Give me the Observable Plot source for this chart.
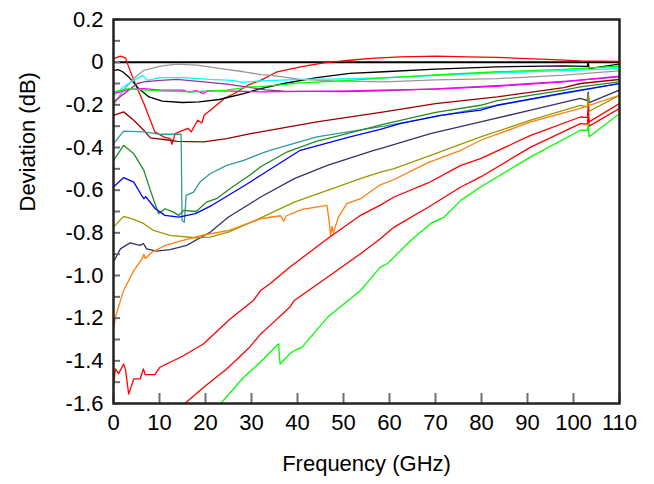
<!DOCTYPE html>
<html>
<head>
<meta charset="utf-8">
<script src="https://cdn.jsdelivr.net/npm/d3@7"></script>
<script src="https://cdn.jsdelivr.net/npm/@observablehq/plot@0.6"></script>
<style>
  html, body { margin: 0; padding: 0; background: #fff; }
  #chart { width: 654px; height: 484px; }
  svg { font-family: "Liberation Sans", Arial, sans-serif; }
</style>
</head>
<body>
<div id="chart"></div>
<script>
// ---- Data (frequency GHz, deviation dB) ----
const redTop = [[0,0.017],[1.5,0.028],[2.6,0.02],[3.3,-0.022],[4.7,-0.1],[6.6,-0.194],[8,-0.272],[9,-0.327],[10.9,-0.35],[12.3,-0.358],[12.7,-0.385],[13.4,-0.335],[15.2,-0.319],[16.2,-0.31],[16.9,-0.327],[18.3,-0.272],[19.2,-0.285],[19.7,-0.249],[21.9,-0.21],[24.1,-0.17],[26.3,-0.147],[29.2,-0.108],[32,-0.085],[35.6,-0.045],[40.6,-0.022],[45.7,-0.003],[51.4,0.009],[56,0.018],[62.3,0.025],[70.4,0.028],[77,0.025],[83.4,0.022],[90,0.017],[94.2,0.013],[101.5,0.006],[110,0.003]];
const black = [[0,-0.04],[1,-0.035],[2,-0.045],[3.3,-0.069],[5.5,-0.124],[7.7,-0.163],[10.6,-0.183],[15,-0.189],[18.6,-0.186],[23,-0.175],[28.3,-0.147],[32,-0.124],[37,-0.1],[44.2,-0.072],[51.4,-0.053],[58.8,-0.045],[70,-0.033],[83.4,-0.022],[97.9,-0.017],[103,-0.02],[103.2,0.0],[103.4,-0.03],[110,-0.009]];
const gray = [[0,-0.2],[2.2,-0.13],[4.4,-0.077],[6.6,-0.038],[10.2,-0.019],[13.8,-0.009],[18.2,-0.014],[23.3,-0.03],[28.3,-0.045],[32,-0.058],[34,-0.061],[40.6,-0.081],[47.8,-0.088],[58.8,-0.092],[70,-0.083],[83.4,-0.077],[97.9,-0.061],[110,-0.041]];
const cyan = [[0,-0.155],[2.2,-0.116],[4.4,-0.085],[6.4,-0.062],[7.3,-0.085],[10.2,-0.072],[15,-0.072],[20.8,-0.081],[26,-0.085],[28,-0.095],[32,-0.088],[40.6,-0.081],[50,-0.078],[60,-0.072],[70,-0.062],[83.4,-0.05],[97.9,-0.04],[110,-0.03]];
const purple = [[0,-0.186],[3.3,-0.131],[5.2,-0.1],[6.6,-0.092],[10.2,-0.085],[13.8,-0.081],[19.6,-0.092],[24.6,-0.103],[29.6,-0.118],[33,-0.13],[37,-0.136],[50,-0.138],[58,-0.135],[70,-0.125],[83.4,-0.11],[97.9,-0.09],[110,-0.069]];
const magenta = [[0,-0.147],[3.3,-0.128],[6.6,-0.124],[10.2,-0.131],[15,-0.131],[16.5,-0.14],[18,-0.133],[19.6,-0.147],[20.5,-0.133],[32,-0.139],[51.4,-0.135],[58,-0.131],[70,-0.126],[83.4,-0.113],[97.9,-0.092],[110,-0.065]];
const lime = [[0,-0.139],[3.3,-0.124],[6.6,-0.13],[10.2,-0.135],[17,-0.139],[24.6,-0.131],[29.8,-0.116],[32,-0.115],[40.6,-0.097],[51.4,-0.085],[58.8,-0.074],[70,-0.06],[83.4,-0.045],[97.9,-0.034],[110,-0.019]];
const maroon = [[0,-0.249],[2.2,-0.233],[4.4,-0.272],[6.6,-0.319],[8,-0.355],[12.3,-0.366],[13.8,-0.371],[19.6,-0.374],[24.6,-0.358],[29.8,-0.335],[32,-0.327],[44.2,-0.28],[58.8,-0.233],[70,-0.194],[83.4,-0.163],[97.9,-0.119],[101.5,-0.1],[110,-0.081]];
const teal = [[0,-0.382],[2.2,-0.323],[6.6,-0.327],[10.2,-0.338],[14.7,-0.338],[14.9,-0.742],[15.4,-0.75],[15.8,-0.624],[17.4,-0.609],[18.8,-0.562],[21,-0.523],[24.6,-0.484],[28.3,-0.46],[32,-0.429],[34,-0.413],[44.2,-0.35],[58.8,-0.3],[70,-0.255],[83.4,-0.202],[97.9,-0.147],[110,-0.1]];
const darkGreen = [[0,-0.46],[2.2,-0.39],[4.4,-0.429],[6.6,-0.507],[8,-0.6],[9.8,-0.71],[11.2,-0.687],[13,-0.703],[14.2,-0.718],[15.2,-0.695],[18,-0.7],[20.2,-0.656],[22.4,-0.64],[25.3,-0.593],[29.6,-0.53],[32,-0.49],[37.8,-0.42],[44.2,-0.37],[48,-0.35],[58.8,-0.29],[70,-0.235],[79.8,-0.202],[83.4,-0.18],[97.9,-0.131],[101.5,-0.116],[110,-0.092]];
const blue = [[0,-0.585],[2.2,-0.541],[4.4,-0.562],[6.1,-0.624],[6.6,-0.64],[7,-0.63],[9.1,-0.687],[11.2,-0.718],[14.2,-0.726],[17.8,-0.71],[21.4,-0.671],[25,-0.624],[28.6,-0.577],[32,-0.53],[40.6,-0.413],[51.4,-0.35],[58,-0.315],[62.3,-0.288],[71,-0.249],[79.8,-0.225],[83.4,-0.202],[97.9,-0.144],[101.5,-0.131],[110,-0.1]];
const navy = [[0,-0.937],[1.5,-0.875],[3.6,-0.847],[5.8,-0.859],[6.5,-0.85],[7.2,-0.875],[9.4,-0.886],[12.3,-0.879],[15.9,-0.859],[21,-0.797],[25,-0.726],[32,-0.632],[39.3,-0.546],[46.5,-0.484],[56.6,-0.413],[58,-0.405],[68.9,-0.335],[79.8,-0.28],[90.7,-0.225],[101.5,-0.17],[103,-0.18],[103.2,-0.14],[103.4,-0.19],[110,-0.131]];
const olive = [[0,-0.773],[2.2,-0.723],[4.4,-0.737],[6.6,-0.757],[8.7,-0.789],[12.3,-0.812],[17.8,-0.823],[21,-0.82],[25,-0.797],[32,-0.73],[39.3,-0.656],[46.5,-0.601],[53.7,-0.546],[58,-0.515],[61,-0.499],[68.5,-0.44],[79.8,-0.35],[90.7,-0.272],[101.5,-0.202],[103,-0.21],[103.2,-0.15],[103.4,-0.23],[110,-0.155]];
const orange = [[0,-1.258],[0.4,-1.196],[2.2,-1.07],[4.4,-0.977],[6.2,-0.922],[6.6,-0.9],[6.9,-0.92],[8.4,-0.89],[11.3,-0.859],[14.9,-0.836],[19.2,-0.812],[25,-0.789],[32,-0.734],[36.3,-0.72],[37,-0.745],[37.6,-0.72],[41,-0.69],[46.4,-0.671],[46.9,-0.75],[47.2,-0.812],[47.5,-0.77],[47.8,-0.8],[48.9,-0.726],[50.7,-0.663],[53.7,-0.64],[58,-0.575],[61,-0.55],[68.5,-0.47],[75.5,-0.413],[79.8,-0.366],[90.7,-0.28],[101.5,-0.217],[110,-0.155]];
const red2 = [[0,-1.524],[0.4,-1.438],[1.1,-1.46],[2.2,-1.415],[2.6,-1.44],[3.3,-1.556],[4.4,-1.485],[5.8,-1.485],[6.5,-1.438],[6.9,-1.465],[9,-1.465],[10.1,-1.43],[15.2,-1.376],[19.6,-1.32],[25.4,-1.203],[30.4,-1.117],[32,-1.07],[34,-1.039],[38.3,-0.961],[46.5,-0.828],[53.7,-0.718],[58,-0.67],[61,-0.632],[68.5,-0.565],[75.5,-0.484],[79.8,-0.452],[90.7,-0.343],[101.5,-0.257],[103,-0.26],[103.2,-0.21],[103.4,-0.28],[110,-0.194]];
const red3 = [[15.5,-1.6],[19.6,-1.524],[24.6,-1.438],[29.6,-1.336],[32,-1.274],[34,-1.235],[38.3,-1.149],[39.3,-1.117],[46.5,-1.008],[53.7,-0.898],[58,-0.828],[61,-0.773],[68.5,-0.679],[75.5,-0.585],[79.8,-0.538],[90.7,-0.398],[101.5,-0.288],[103,-0.29],[103.2,-0.25],[103.4,-0.3],[110,-0.217]];
const lime2 = [[23.3,-1.6],[28.3,-1.477],[31.9,-1.407],[35.9,-1.32],[36.2,-1.415],[38.3,-1.368],[39.3,-1.352],[41,-1.336],[46.5,-1.196],[53.7,-1.07],[58,-0.961],[59.5,-0.945],[64.6,-0.836],[68.9,-0.757],[71.9,-0.726],[75.5,-0.648],[79.8,-0.585],[90.7,-0.444],[101.5,-0.319],[103,-0.32],[103.2,-0.29],[103.4,-0.35],[110,-0.241]];

const seriesNames  = ["redTop","black","gray","cyan","purple","magenta","lime","maroon","teal","darkGreen","blue","navy","olive","orange","red2","red3","lime2"];
const seriesPoints = [redTop, black, gray, cyan, purple, magenta, lime, maroon, teal, darkGreen, blue, navy, olive, orange, red2, red3, lime2];
const seriesColors = ["#ff0000","#000000","#999999","#00ffff","#993399","#ff00ff","#00ff00","#990000","#339999","#228b22","#0000ff","#333366","#999900","#ff7f0f","#ff0000","#ff0000","#00ff00"];

const xTicks = [0,10,20,30,40,50,60,70,80,90,100,110];
const yTicks = [-1.6,-1.4,-1.2,-1.0,-0.8,-0.6,-0.4,-0.2,0,0.2];
const yMinorTicks = [-1.6,-1.5,-1.4,-1.3,-1.2,-1.1,-1.0,-0.9,-0.8,-0.7,-0.6,-0.5,-0.4,-0.3,-0.2,-0.1,0,0.1,0.2];
const xTitle = "Frequency (GHz)";
const yTitle = "Deviation (dB)";

// ---- Build table ----
const rows = seriesPoints.flatMap((pts, i) =>
  pts.map(([f, v]) => ({series: seriesNames[i], f, v})));

const W = 654, H = 484, mL = 113, mR = 35, mT = 19, mB = 81;
const innerH = H - mT - mB, innerW = W - mL - mR;

const chart = Plot.plot({
  width: W, height: H,
  marginLeft: mL, marginRight: mR, marginTop: mT, marginBottom: mB,
  style: {fontFamily: "'Liberation Sans', Arial, sans-serif", fontSize: "22px", color: "#000", background: "#fff"},
  x: {domain: [0, 110]},
  y: {domain: [-1.6, 0.2]},
  color: {domain: seriesNames, range: seriesColors},
  marks: [
    Plot.ruleY([0], {stroke: "#000", strokeWidth: 2}),
    Plot.line(rows, {x: "f", y: "v", z: "series", stroke: "series", strokeWidth: 1.3, clip: true}),
    Plot.tickX(xTicks, {x: d => d, stroke: "#6e6e6e", strokeWidth: 2, insetTop: innerH - 10}),
    Plot.tickY(yMinorTicks, {y: d => d, stroke: "#6e6e6e", strokeWidth: 2, insetRight: innerW - 7}),
    Plot.axisX({ticks: xTicks, tickSize: 0, tickPadding: 11, label: null, fontSize: 22, tickFormat: d => String(d)}),
    Plot.axisY({ticks: yTicks, tickSize: 0, tickPadding: 10, label: null, fontSize: 22, tickFormat: d => (d === 0 ? "0" : d.toFixed(1))}),
    Plot.frame({stroke: "#222", strokeWidth: 2.5}),
    Plot.text([xTitle], {frameAnchor: "bottom", dy: 67, fontSize: 22, text: d => d}),
    Plot.text([yTitle], {frameAnchor: "left", dx: -86, rotate: -90, fontSize: 22, text: d => d})
  ]
});
document.getElementById("chart").appendChild(chart);
</script>
</body>
</html>
